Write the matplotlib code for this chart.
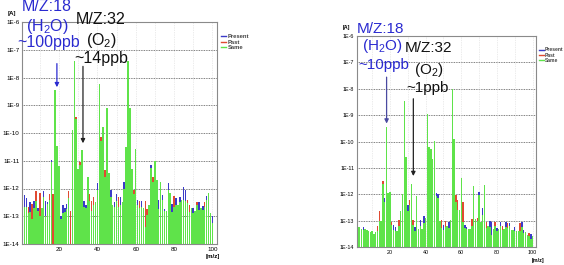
import numpy as np
import matplotlib
matplotlib.use("Agg")
import matplotlib.pyplot as plt
from matplotlib.lines import Line2D

plt.rcParams['font.family'] = ['Liberation Sans', 'DejaVu Sans']
plt.rcParams['mathtext.default'] = 'regular'

# mass numbers shown in both spectra
mz = list(range(2, 101))

# left spectrum, log10 of current [A]
left_present = [
    -12.23, -12.35, -12.90, -12.50, -13.10, -12.45, -12.45, -12.70, -13.00, -12.70,
    -12.10, -12.45, -12.50, -12.40, -10.96, -14.00, -8.45, -10.48, -11.20, -13.00,
    -12.60, -12.70, -12.55, -12.35, -14.00, -9.90, -7.41, -9.50, -11.30, -11.15,
    -10.60, -12.45, -12.60, -11.60, -12.45, -12.80, -12.60, -12.50, -11.80, -8.24,
    -10.30, -9.80, -11.60, -9.10, -11.45, -12.05, -12.60, -12.50, -12.20, -12.65,
    -12.30, -12.50, -11.75, -10.50, -7.41, -9.10, -11.30, -12.20, -10.58, -12.40,
    -12.70, -12.45, -12.70, -13.40, -12.95, -12.60, -11.15, -11.75, -11.00, -11.70,
    -12.40, -11.75, -12.25, -12.75, -12.80, -11.80, -12.15, -12.55, -12.65, -12.35,
    -12.60, -12.30, -12.40, -11.95, -12.05, -12.52, -12.83, -12.70, -12.70, -12.80,
    -12.60, -12.50, -12.70, -12.62, -12.65, -12.26, -12.17, -12.90, -13.00]
left_past = [
    -12.67, -12.65, -12.65, -12.85, -12.55, -12.70, -12.10, -12.80, -12.15, -12.70,
    -12.30, -13.00, -12.55, -12.20, -11.05, -12.20, -8.45, -10.48, -11.20, -13.10,
    -12.90, -12.85, -12.75, -12.10, -12.80, -9.90, -7.41, -9.42, -11.30, -11.05,
    -10.60, -12.67, -12.70, -11.60, -12.20, -12.45, -12.30, -12.50, -12.05, -8.24,
    -10.15, -9.80, -11.35, -9.10, -11.45, -12.30, -12.60, -12.67, -12.45, -12.30,
    -12.60, -12.50, -12.00, -10.50, -7.41, -9.10, -11.30, -12.05, -10.58, -12.60,
    -12.45, -12.65, -12.70, -12.45, -12.75, -12.60, -11.25, -11.60, -11.00, -11.70,
    -12.75, -11.75, -12.40, -12.82, -12.80, -12.05, -12.15, -12.83, -12.27, -12.60,
    -12.60, -12.50, -12.40, -12.40, -12.45, -12.40, -12.60, -12.70, -12.87, -12.80,
    -12.47, -12.77, -12.70, -12.77, -12.50, -12.40, -12.17, -12.90, -13.25]

# right spectrum, log10 of current [A]
right_present = [
    -13.25, -13.25, -13.30, -13.25, -13.30, -13.35, -13.40, -13.45, -13.40, -13.50,
    -13.45, -13.40, -13.00, -13.00, -11.60, -12.15, -9.45, -11.95, -11.90, -13.15,
    -13.15, -13.25, -13.40, -13.22, -12.65, -12.00, -8.48, -10.60, -12.40, -12.40,
    -11.60, -13.15, -13.25, -12.05, -13.30, -12.98, -13.30, -12.83, -12.90, -8.97,
    -10.20, -10.30, -10.66, -9.98, -11.95, -11.98, -13.00, -13.29, -13.16, -13.25,
    -13.20, -13.04, -12.98, -8.00, -9.90, -12.29, -12.60, -12.60, -11.38, -13.04,
    -13.16, -13.25, -13.33, -13.30, -13.20, -11.70, -12.95, -13.00, -11.91, -13.05,
    -12.54, -11.65, -13.29, -13.20, -13.00, -13.04, -13.30, -13.22, -13.29, -13.30,
    -13.04, -13.35, -13.30, -13.04, -13.29, -13.10, -13.35, -13.35, -13.25, -13.40,
    -13.41, -13.38, -13.04, -13.35, -13.45, -13.54, -13.60, -13.51, -13.60]
right_past = [
    -13.25, -13.25, -13.30, -13.35, -13.30, -13.35, -13.40, -13.45, -13.40, -13.50,
    -13.45, -13.20, -12.65, -13.00, -11.50, -12.30, -9.45, -11.95, -11.90, -13.05,
    -13.35, -13.38, -13.40, -12.98, -12.65, -12.00, -8.48, -10.60, -12.65, -12.20,
    -11.60, -12.98, -13.38, -12.05, -13.30, -13.22, -13.30, -13.10, -12.90, -8.97,
    -10.20, -10.30, -10.66, -9.98, -12.08, -12.16, -13.00, -12.98, -13.35, -13.00,
    -13.20, -13.29, -12.98, -8.00, -9.90, -12.04, -12.20, -12.60, -11.38, -12.29,
    -13.29, -13.33, -13.33, -13.30, -12.95, -11.70, -12.95, -12.90, -12.04, -13.05,
    -12.79, -11.65, -13.04, -13.20, -13.25, -13.54, -13.30, -13.04, -13.41, -13.30,
    -13.20, -13.22, -13.30, -13.25, -13.10, -13.22, -13.35, -13.35, -13.41, -13.40,
    -13.41, -13.10, -13.25, -13.48, -13.45, -13.54, -13.48, -13.70, -13.60]

decades = [-14, -13, -12, -11, -10, -9, -8, -7, -6]
xticks = [20, 40, 60, 80, 100]

GREEN = '#5fe34a'
BLUE = '#3b3bc8'
RED = '#e04a32'

W, H = 564, 265
fig = plt.figure(figsize=(W / 100, H / 100), dpi=100)


def spectrum(rect, present, past, xlim, small, unit_off):
    ax = fig.add_axes(rect)
    pres = 10.0 ** np.array(present)
    pst = 10.0 ** np.array(past)
    lo = np.minimum(pres, pst)
    hi = np.maximum(pres, pst)
    base = 1e-15
    ax.bar(mz, lo - base, bottom=base, width=0.8, color=GREEN, linewidth=0)
    cap_col = np.where(pres > pst, BLUE, RED)
    ax.bar(mz, hi - lo, bottom=lo, width=0.8, color=cap_col, linewidth=0)
    ax.set_yscale('log')
    ax.set_ylim(1e-14, 1e-6)
    ax.set_xlim(*xlim)
    ax.set_yticks([10.0 ** d for d in decades])
    ax.set_yticklabels(['1E%d' % d for d in decades])
    ax.minorticks_off()
    ax.set_xticks(xticks)
    ax.tick_params(labelsize=small, length=0, pad=2)
    for d in decades:
        ax.axhline(10.0 ** d, color='#555555', ls=(0, (1, 1)), lw=0.6, zorder=0)
    for x in range(10, 101, 10):
        ax.axvline(x, color='#d8d8d8', ls=(0, (1, 1.5)), lw=0.5, zorder=0)
    for s in ax.spines.values():
        s.set_color('#8a8a8a')
        s.set_linewidth(0.8)
    ax.annotate('[A]', xy=(0, 1), xycoords='axes fraction', xytext=(-10, 4),
                textcoords='offset points', fontsize=small, fontweight='bold',
                ha='left', va='bottom')
    ax.annotate('[m/z]', xy=(1, 0), xycoords='axes fraction', xytext=unit_off,
                textcoords='offset points', fontsize=small, fontweight='bold',
                ha='left', va='center')
    handles = [Line2D([], [], color=c, lw=1) for c in (BLUE, RED, GREEN)]
    leg = ax.legend(handles, ['Present', 'Past', 'Same'], loc='upper left',
                    bbox_to_anchor=(1.0, 0.96), frameon=False, fontsize=small - 0.3,
                    handlelength=0.9, handletextpad=0.3, labelspacing=0.05,
                    borderaxespad=0.2)
    for t in leg.get_texts():
        t.set_color('#444444')
        t.set_fontweight('bold')
    return ax


def rect(x0, x1, y0, y1):
    return [x0 / W, 1 - y1 / H, (x1 - x0) / W, (y1 - y0) / H]


axl = spectrum(rect(22, 217, 22, 244), left_present, left_past, (0.7, 102.4),
               4.5, (-8, -9))
axr = spectrum(rect(357, 536, 36, 247), right_present, right_past, (1.5, 101.9),
               3.9, (-3, -9.5))


def arrow(ax, x, y0, y1, color):
    ax.annotate('', xy=(x, 10.0 ** y1), xytext=(x, 10.0 ** y0),
                arrowprops=dict(arrowstyle='-|>', color=color, lw=0.9,
                                mutation_scale=6, shrinkA=0, shrinkB=0))


arrow(axl, 18.9, -7.5, -8.35, '#2a2ad0')
arrow(axl, 32.5, -7.6, -10.37, '#222222')
arrow(axr, 18.1, -7.56, -9.32, '#4a4aa0')
arrow(axr, 33.1, -8.38, -11.31, '#222222')


def label(x, y, s, color, size=11.5):
    fig.text(x / W, 1 - y / H, s, color=color, fontsize=size,
             ha='center', va='center')


LB = '#2a2ad0'
label(47, 6.5, 'M/Z:18', LB)
label(47, 27, '(H$_2$O)', LB)
label(49, 43, '~100ppb', LB)
label(101, 19, 'M/Z:32', '#111111')
label(101, 40, '(O$_2$)', '#111111')
label(101, 58, '~14ppb', '#111111')

label(381, 29, 'M/Z:18', LB, 11)
label(382, 46, '(H$_2$O)', LB, 11)
label(384, 65, '~10ppb', LB, 11)
label(428, 48, 'M/Z:32', '#111111', 11)
label(429, 70, '(O$_2$)', '#111111', 11)
label(428, 88, '~1ppb', '#111111', 11)

fig.savefig('out.png', dpi=100)
